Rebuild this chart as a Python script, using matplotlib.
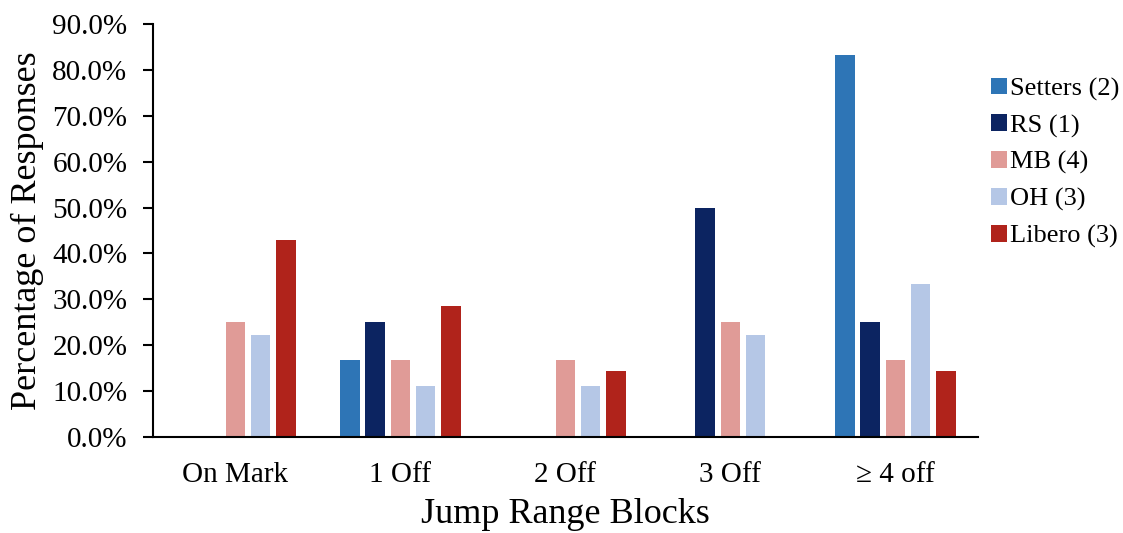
import numpy as np
import matplotlib.pyplot as plt

plt.rcParams['font.family'] = ['Liberation Serif', 'DejaVu Serif']

categories = ["On Mark", "1 Off", "2 Off", "3 Off", "\u2265 4 off"]
series_names = ["Setters (2)", "RS (1)", "MB (4)", "OH (3)", "Libero (3)"]
setters = [0.0, 16.7, 0.0, 0.0, 83.3]
rs = [0.0, 25.0, 0.0, 50.0, 25.0]
mb = [25.0, 16.7, 16.7, 25.0, 16.7]
oh = [22.2, 11.1, 11.1, 22.2, 33.3]
libero = [42.9, 28.6, 14.3, 0.0, 14.3]
colors = ["#2E75B6", "#0C2461", "#E09B97", "#B5C7E6", "#B0231B"]

fig = plt.figure(figsize=(11.23, 5.33), dpi=100)
ax = fig.add_axes([0.1362, 0.1801, 0.7346, 0.775])

x = np.arange(len(categories))
step = 0.153
width = 0.118
for i, (vals, name) in enumerate(zip([setters, rs, mb, oh, libero], series_names)):
    ax.bar(x + (i - 2) * step, vals, width, color=colors[i], label=name)

ax.set_xlim(-0.5, 4.5)
ax.set_ylim(0, 90)
ax.set_yticks(np.arange(0, 91, 10))
ax.set_yticklabels([f"{v:.1f}%" for v in np.arange(0, 91, 10)], fontsize=21)
ax.set_xticks(x)
ax.set_xticklabels(categories, fontsize=21)
ax.tick_params(axis='x', length=0, pad=18)
ax.tick_params(axis='y', length=7, width=1.5, direction='out', pad=11.5)
for s in ['top', 'right']:
    ax.spines[s].set_visible(False)
ax.spines['left'].set_linewidth(1.5)
ax.spines['bottom'].set_linewidth(1.5)

ax.set_ylabel("Percentage of Responses", fontsize=26, labelpad=6)
ax.set_xlabel("Jump Range Blocks", fontsize=26, labelpad=7)

leg = ax.legend(loc='upper left', bbox_to_anchor=(1.016, 0.87), frameon=False,
                fontsize=19, handlelength=0.6, handleheight=0.6,
                handletextpad=0.1, labelspacing=0.52,
                borderpad=0, borderaxespad=0)

fig.savefig("out.png", dpi=100)
